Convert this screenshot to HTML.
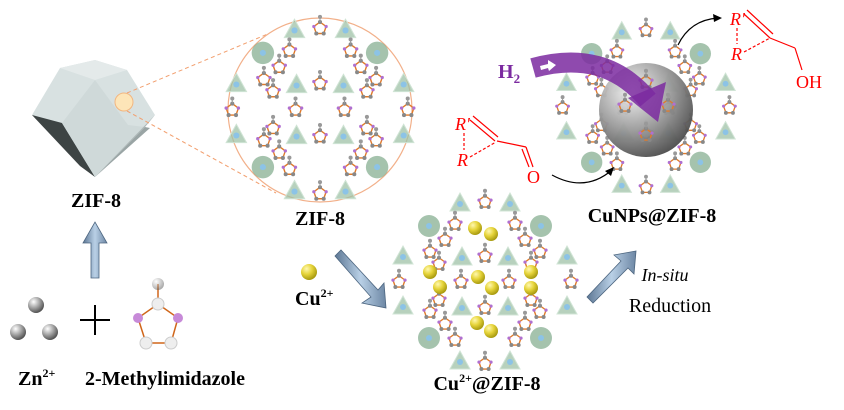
<!DOCTYPE html>
<html><head><meta charset="utf-8"><style>html,body{margin:0;padding:0;background:#fff}svg{display:block}</style></head><body>
<svg width="844" height="410" viewBox="0 0 844 410" xmlns="http://www.w3.org/2000/svg" font-family="'Liberation Serif',serif">
<defs>
<radialGradient id="sph" cx="35%" cy="30%" r="70%"><stop offset="0" stop-color="#fff"/><stop offset=".5" stop-color="#aaa"/><stop offset="1" stop-color="#555"/></radialGradient>
<radialGradient id="ysph" cx="35%" cy="30%" r="70%"><stop offset="0" stop-color="#fff8b0"/><stop offset=".5" stop-color="#e6d43a"/><stop offset="1" stop-color="#a99b10"/></radialGradient>
<radialGradient id="big" cx="35%" cy="30%" r="75%"><stop offset="0" stop-color="#f4f4f4"/><stop offset=".55" stop-color="#9a9a9a"/><stop offset="1" stop-color="#4a4a4a"/></radialGradient>
<linearGradient id="arr" x1="0" y1="0" x2="1" y2="0"><stop offset="0" stop-color="#5d7794"/><stop offset=".5" stop-color="#b9d0e6"/><stop offset="1" stop-color="#6d87a4"/></linearGradient>
<g id="t"><polygon points="0,-11 10,7 -10,7" fill="#9fc2a7" fill-opacity=".75" stroke="#d0e4d5" stroke-width="1"/><circle r="3" fill="#8cc3e6"/></g>
<g id="r"><circle r="11" fill="#7fa98a" fill-opacity=".7"/><circle r="3" fill="#8cc3e6"/></g>
<g id="l0"><polygon points="0,-5 4.8,-1.5 2.9,4 -2.9,4 -4.8,-1.5" fill="none" stroke="#e07a2a" stroke-width="1.1"/><circle cx="0" cy="-5" r="1.6" fill="#888"/><circle cx="2.9" cy="4" r="1.6" fill="#888"/><circle cx="-2.9" cy="4" r="1.6" fill="#888"/><circle cx="4.8" cy="-1.5" r="1.3" fill="#b070d0"/><circle cx="-4.8" cy="-1.5" r="1.3" fill="#b070d0"/><circle cx="0" cy="-9" r="1.6" fill="#999"/><line x1="0" y1="-5" x2="0" y2="-9" stroke="#999" stroke-width=".8"/></g>
<g id="l"><use href="#l0" transform="scale(1.25)"/></g>
<g id="fw">
<use href="#t" x="-25" y="-78"/><use href="#t" x="25" y="-78"/><use href="#t" x="-25" y="80"/><use href="#t" x="25" y="80"/>
<use href="#t" x="-82" y="-25"/><use href="#t" x="-82" y="25"/><use href="#t" x="82" y="-25"/><use href="#t" x="82" y="25"/>
<use href="#r" x="-56" y="-56"/><use href="#r" x="56" y="-56"/><use href="#r" x="-56" y="56"/><use href="#r" x="56" y="56"/>
<use href="#t" x="-23" y="-24"/><use href="#t" x="23" y="-24"/><use href="#t" x="-23" y="26"/><use href="#t" x="23" y="26"/>
<use href="#l" x="0" y="-80"/><use href="#l" x="0" y="82"/><use href="#l" x="-86" y="0"/><use href="#l" x="86" y="0"/>
<use href="#l" x="0" y="-26"/><use href="#l" x="0" y="26"/><use href="#l" x="-24" y="0"/><use href="#l" x="24" y="0"/>
<use href="#l" x="-40" y="-42"/><use href="#l" x="40" y="-42"/><use href="#l" x="-40" y="42"/><use href="#l" x="40" y="42"/>
<use href="#l" x="-55" y="-30"/><use href="#l" x="55" y="-30"/><use href="#l" x="-55" y="30"/><use href="#l" x="55" y="30"/>
<use href="#l" x="-30" y="-58"/><use href="#l" x="30" y="-58"/><use href="#l" x="-30" y="58"/><use href="#l" x="30" y="58"/>
<use href="#l" x="-46" y="-18"/><use href="#l" x="46" y="18"/><use href="#l" x="-46" y="18"/><use href="#l" x="46" y="-18"/>
</g>
</defs>

<!-- polyhedron -->
<polygon points="32,115 60,68 95,60 127,70 155,115 145,127 95,177 80,165" fill="#d8e1e1"/>
<polygon points="60,68 95,60 127,70 95,80" fill="#e4eaea"/>
<polygon points="32,115 62,123 95,177 80,166" fill="#3d4444"/>
<polygon points="62,123 95,177 145,127 128,125 95,80" fill="#cfd9d9"/>
<polygon points="145,127 155,115 95,177" fill="#aeb8b8"/>
<polygon points="95,177 145,127 150,128" fill="#9aa5a5"/>
<circle cx="124" cy="102" r="9" fill="#fde5b8" stroke="#f2b680" stroke-width="1"/>
<line x1="127" y1="93" x2="282" y2="28" stroke="#f2a070" stroke-dasharray="4,3"/>
<line x1="127" y1="111" x2="276" y2="193" stroke="#f2a070" stroke-dasharray="4,3"/>
<text x="96" y="207" font-size="20" font-weight="bold" text-anchor="middle">ZIF-8</text>

<!-- ZIF-8 zoom circle -->
<circle cx="320" cy="110" r="92" fill="#fff" stroke="#f2b08a" stroke-width="1.2"/>
<use href="#fw" transform="translate(320,110) scale(1.02)"/>
<text x="320" y="225" font-size="20" font-weight="bold" text-anchor="middle">ZIF-8</text>

<!-- up arrow -->
<polygon points="91,278 99,278 99,243 107,243 95,222 83,243 91,243" fill="url(#arr)" stroke="#4d6680" stroke-width=".8"/>

<!-- Zn spheres -->
<circle cx="36" cy="305" r="8" fill="url(#sph)"/><circle cx="18" cy="332" r="8" fill="url(#sph)"/><circle cx="50" cy="332" r="8" fill="url(#sph)"/>
<line x1="80" y1="320" x2="110" y2="320" stroke="#000" stroke-width="2"/><line x1="95" y1="305" x2="95" y2="335" stroke="#000" stroke-width="2"/>
<g stroke="#d0661a" stroke-width="1.5" fill="none"><line x1="158" y1="284" x2="158" y2="304"/><polygon points="158,304 178,318 171,343 146,343 138,318"/></g>
<circle cx="158" cy="284" r="6" fill="url(#sph)" opacity=".5"/><circle cx="158" cy="304" r="6" fill="#eee" stroke="#ccc"/>
<circle cx="138" cy="318" r="5" fill="#c78ad8"/><circle cx="178" cy="318" r="5" fill="#c78ad8"/>
<circle cx="146" cy="343" r="6" fill="#eee" stroke="#ccc"/><circle cx="171" cy="343" r="6" fill="#eee" stroke="#ccc"/>
<text x="18" y="385" font-size="20" font-weight="bold">Zn<tspan font-size="12" dy="-8">2+</tspan></text>
<text x="85" y="385" font-size="20" font-weight="bold">2-Methylimidazole</text>

<!-- Cu2+ -->
<circle cx="309" cy="272" r="8" fill="url(#ysph)"/>
<text x="295" y="305" font-size="20" font-weight="bold">Cu<tspan font-size="12" dy="-8">2+</tspan></text>
<polygon points="335,256 341,250 378,290 384,283 386,308 362,303 371,297" fill="url(#arr)" stroke="#4d6680" stroke-width=".8"/>

<!-- Cu2+@ZIF-8 -->
<use href="#fw" transform="translate(485,282)"/>
<g fill="url(#ysph)">
<circle cx="475" cy="228" r="7"/><circle cx="491" cy="234" r="7"/><circle cx="430" cy="272" r="7"/><circle cx="440" cy="287" r="7"/>
<circle cx="478" cy="277" r="7"/><circle cx="492" cy="288" r="7"/><circle cx="531" cy="272" r="7"/><circle cx="531" cy="288" r="7"/>
<circle cx="477" cy="323" r="7"/><circle cx="491" cy="331" r="7"/></g>
<text x="487" y="390" font-size="20" font-weight="bold" text-anchor="middle">Cu<tspan font-size="12" dy="-8">2+</tspan><tspan dy="8">@ZIF-8</tspan></text>

<!-- reduction arrow -->
<polygon points="587,297 593,303 628,268 634,274 636,251 614,255 621,261" fill="url(#arr)" stroke="#4d6680" stroke-width=".8"/>
<text x="665" y="281" font-size="18" font-style="italic" text-anchor="middle">In-situ</text>
<text x="670" y="312" font-size="20" text-anchor="middle">Reduction</text>

<!-- CuNPs@ZIF-8 -->
<use href="#fw" transform="translate(646,108) scale(.97)"/>
<circle cx="646" cy="110" r="47" fill="url(#big)" opacity=".95"/>
<use href="#l" x="625" y="106"/><use href="#l" x="668" y="106"/><use href="#l" x="646" y="135"/><use href="#l" x="646" y="82"/>
<path d="M533,68 Q605,48 648,100" stroke="#7b2aa0" stroke-width="20" fill="none" opacity=".85"/>
<polygon points="628,98 666,82 658,122" fill="#7b2aa0" opacity=".85"/>
<polygon points="540,66 548,64 548,60 556,65 549,71 548,68 541,70" fill="#fff"/>
<text x="498" y="78" font-size="20" font-weight="bold" fill="#7b2aa0">H<tspan font-size="13" dy="5">2</tspan></text>
<text x="652" y="222" font-size="20" font-weight="bold" text-anchor="middle">CuNPs@ZIF-8</text>

<!-- molecules -->
<g fill="#f00" font-size="18"><text x="455" y="130" font-style="italic">R'</text><text x="457" y="166" font-style="italic">R</text><text x="527" y="183">O</text>
<text x="730" y="25" font-style="italic">R'</text><text x="731" y="60" font-style="italic">R</text><text x="796" y="88">OH</text></g>
<g stroke="#f00" stroke-width="1.2" fill="none">
<line x1="470" y1="120" x2="495" y2="141"/><line x1="473" y1="116" x2="498" y2="137"/>
<line x1="497" y1="141" x2="526" y2="147"/><line x1="526" y1="147" x2="533" y2="167"/><line x1="522" y1="149" x2="529" y2="167"/>
<line x1="464" y1="133" x2="464" y2="150" stroke-dasharray="3,2"/><line x1="470" y1="157" x2="496" y2="142" stroke-dasharray="3,2"/>
<line x1="744" y1="14" x2="770" y2="38"/><line x1="747" y1="10" x2="773" y2="34"/>
<line x1="770" y1="38" x2="795" y2="48"/><line x1="795" y1="48" x2="802" y2="70"/>
<line x1="737" y1="28" x2="737" y2="44" stroke-dasharray="3,2"/><line x1="744" y1="52" x2="770" y2="38" stroke-dasharray="3,2"/>
</g>
<g stroke="#000" stroke-width="1.2" fill="none"><path d="M552,175 Q585,193 612,170"/><path d="M678,45 Q690,20 718,18"/></g>
<polygon points="614,167 605,171 611,176" fill="#000"/><polygon points="722,18 713,14 714,22" fill="#000"/>
</svg>
</body></html>
